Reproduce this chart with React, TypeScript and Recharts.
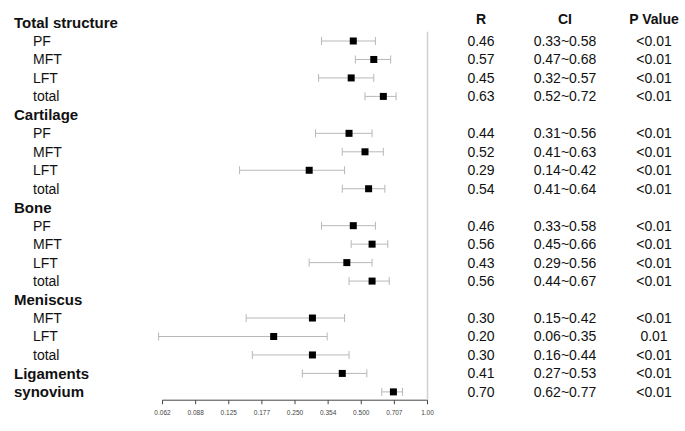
import { ScatterChart, Scatter, XAxis, YAxis, ErrorBar, ReferenceLine } from "recharts";

document.body.style.margin = "0";

const rowLabels = [
  "Total structure", "PF", "MFT", "LFT", "total",
  "Cartilage", "PF", "MFT", "LFT", "total",
  "Bone", "PF", "MFT", "LFT", "total",
  "Meniscus", "MFT", "LFT", "total",
  "Ligaments", "synovium",
];
const headerRows = [
  true, false, false, false, false,
  true, false, false, false, false,
  true, false, false, false, false,
  true, false, false, false,
  true, true,
];
const rValues = [
  null, 0.46, 0.57, 0.45, 0.63,
  null, 0.44, 0.52, 0.29, 0.54,
  null, 0.46, 0.56, 0.43, 0.56,
  null, 0.3, 0.2, 0.3,
  0.41, 0.7,
];
const ciLow = [
  null, 0.33, 0.47, 0.32, 0.52,
  null, 0.31, 0.41, 0.14, 0.41,
  null, 0.33, 0.45, 0.29, 0.44,
  null, 0.15, 0.06, 0.16,
  0.27, 0.62,
];
const ciHigh = [
  null, 0.58, 0.68, 0.57, 0.72,
  null, 0.56, 0.63, 0.42, 0.64,
  null, 0.58, 0.66, 0.56, 0.67,
  null, 0.42, 0.35, 0.44,
  0.53, 0.77,
];
const pValues = [
  "", "<0.01", "<0.01", "<0.01", "<0.01",
  "", "<0.01", "<0.01", "<0.01", "<0.01",
  "", "<0.01", "<0.01", "<0.01", "<0.01",
  "", "<0.01", "0.01", "<0.01",
  "<0.01", "<0.01",
];
const columnHeaders = ["R", "CI", "P Value"];
const xTicks = [0.0625, 0.0884, 0.125, 0.1768, 0.25, 0.3536, 0.5, 0.7071, 1];
const xTickLabels = ["0.062", "0.088", "0.125", "0.177", "0.250", "0.354", "0.500", "0.707", "1.00"];

const rows = rowLabels.map((label, i) => ({
  row: i,
  label,
  header: headerRows[i],
  r: rValues[i],
  lo: ciLow[i],
  hi: ciHigh[i],
  p: pValues[i],
}));

const points = rows
  .filter((d) => d.r != null)
  .map((d) => ({ ...d, err: [(d.r as number) - (d.lo as number), (d.hi as number) - (d.r as number)] }));

const FONT = "'Liberation Sans', Arial, sans-serif";
const colX = [481, 565, 654];
const yDomain = [-0.5, 20.45];

function RowTick({ y, payload }: any) {
  const d = rows[payload.value];
  if (!d) return null;
  return (
    <g fontFamily={FONT} fill="#111">
      <text
        x={d.header ? 14 : 33}
        y={y}
        dominantBaseline="central"
        fontSize={d.header ? 15 : 14}
        fontWeight={d.header ? 700 : 400}
      >
        {d.label}
      </text>
      {d.r != null && (
        <>
          <text x={colX[0]} y={y} textAnchor="middle" dominantBaseline="central" fontSize={14}>
            {d.r.toFixed(2)}
          </text>
          <text x={colX[1]} y={y} textAnchor="middle" dominantBaseline="central" fontSize={14}>
            {`${(d.lo as number).toFixed(2)}~${(d.hi as number).toFixed(2)}`}
          </text>
          <text x={colX[2]} y={y} textAnchor="middle" dominantBaseline="central" fontSize={14}>
            {d.p}
          </text>
        </>
      )}
      {d.row === 0 &&
        columnHeaders.map((h, i) => (
          <text
            key={h}
            x={colX[i]}
            y={y - 4}
            textAnchor="middle"
            dominantBaseline="central"
            fontSize={14}
            fontWeight={700}
          >
            {h}
          </text>
        ))}
    </g>
  );
}

export default function App() {
  return (
    <div style={{ width: 685, height: 431, background: "#fff" }}>
      <ScatterChart width={685} height={431} margin={{ top: 13.3, right: 257.5, bottom: 10.8, left: 0 }}>
        {/* domain stretches to the lowest CI (0.06), so the axis line is drawn from 0.062 on */}
        <XAxis
          type="number"
          dataKey="r"
          scale="log"
          domain={[0.0625, 1]}
          ticks={xTicks}
          interval={0}
          tickFormatter={(_v: number, i: number) => xTickLabels[i]}
          tick={{ fontSize: 6.5, fill: "#444", fontFamily: FONT }}
          tickSize={4}
          tickMargin={6}
          height={20}
          stroke="#444"
          axisLine={false}
        />
        <YAxis
          type="number"
          dataKey="row"
          domain={yDomain}
          reversed
          ticks={rows.map((d) => d.row)}
          interval={0}
          width={158.6}
          axisLine={false}
          tickLine={false}
          tick={<RowTick />}
        />
        <ReferenceLine
          segment={[
            { x: xTicks[0], y: yDomain[1] },
            { x: 1, y: yDomain[1] },
          ]}
          stroke="#444"
          strokeWidth={1}
          ifOverflow="visible"
        />
        <ReferenceLine
          segment={[
            { x: 1, y: 0.5 },
            { x: 1, y: yDomain[1] },
          ]}
          stroke="#d0d0d0"
          strokeWidth={1.5}
          ifOverflow="visible"
        />
        <Scatter
          data={points}
          isAnimationActive={false}
          shape={(p: any) => <rect x={p.cx - 3.5} y={p.cy - 3.5} width={7} height={7} fill="#000" />}
        >
          <ErrorBar dataKey="err" direction="x" stroke="#b8b8b8" width={4} strokeWidth={1} />
        </Scatter>
      </ScatterChart>
    </div>
  );
}
